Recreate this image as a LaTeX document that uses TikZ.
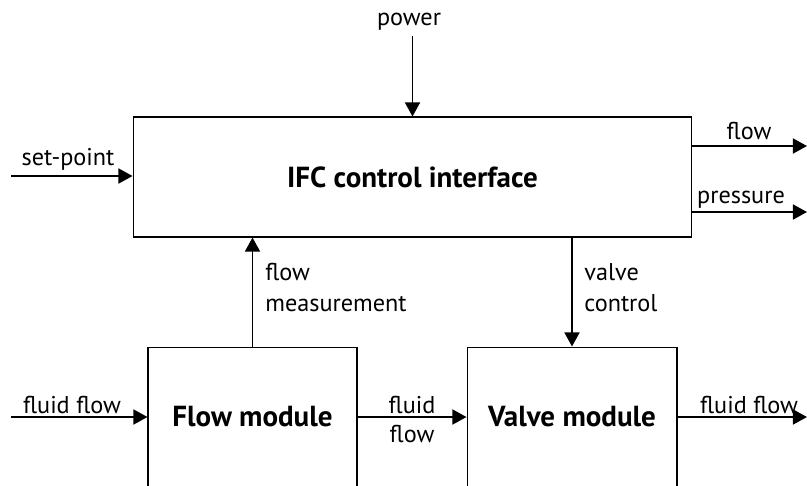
\documentclass[tikz,border=0pt]{standalone}
\usepackage{fontspec}
\setmainfont{PT Sans}
\usetikzlibrary{positioning,arrows.meta}

\begin{document}
\begin{tikzpicture}[
    x=0.02cm, y=-0.02cm,
    node font=\fontsize{13.8}{17.6}\selectfont,
    arr/.style={draw, -{Triangle[length=8pt, width=8.5pt]}, line width=1.1pt},
    box/.style={draw, rectangle, line width=0.6pt, minimum height=2.4cm, font=\fontsize{16.5}{19}\selectfont\bfseries},
    lbl/.style={anchor=base}
]
\useasboundingbox (0,0) rectangle (807,485);

% blocks
\node[box, minimum width=11.18cm] (ifc) at (412.5,177) {IFC control interface};
\node[box, minimum width=4.18cm, minimum height=2.8cm] (flowmod) at (252.5,417) {Flow module};
\node[box, minimum width=4.2cm, minimum height=2.8cm] (valvemod) at (572,417) {Valve module};

% free ends
\coordinate (pwr) at (412.5,36);
\coordinate (spt) at (11,176);
\coordinate (flo) at (807,146);
\coordinate (prs) at (807,212);
\coordinate (fin) at (11,417);
\coordinate (fout) at (807,417);

% signals
\draw[arr] (pwr) -- (ifc.north);
\draw[arr] (spt) -- (spt -| ifc.west);
\draw[arr] (flo -| ifc.east) -- (flo);
\draw[arr] (prs -| ifc.east) -- (prs);
\draw[arr] (flowmod.north) -- (flowmod.north |- ifc.south);
\draw[arr] (valvemod.north |- ifc.south) -- (valvemod.north);

% fluid path
\draw[arr] (fin) -- (flowmod.west);
\draw[arr] (flowmod.east) -- (valvemod.west) node[midway, above, inner sep=1.5pt] (fluidA) {fluid} node[midway, below, inner sep=4pt] (fluidB) {flow};
\draw[arr] (valvemod.east) -- (fout);

% labels
\node[lbl] (pwrlbl) at (409,25) {power};
\node[lbl] (sptlbl) at (68,165) {set-point};
\node[lbl] (flolbl) at (749,139) {flow};
\node[lbl] (prslbl) at (741,203) {pressure};
\node[lbl] (finlbl) at (72,413) {fluid flow};
\node[lbl] (foutlbl) at (749,413) {fluid flow};
\node[anchor=north west, align=left, inner sep=0pt] (fmlbl) at (265,263) {flow\\measurement};
\node[anchor=north west, align=left, inner sep=0pt] (vclbl) at (584,263) {valve\\control};

\end{tikzpicture}
\end{document}
